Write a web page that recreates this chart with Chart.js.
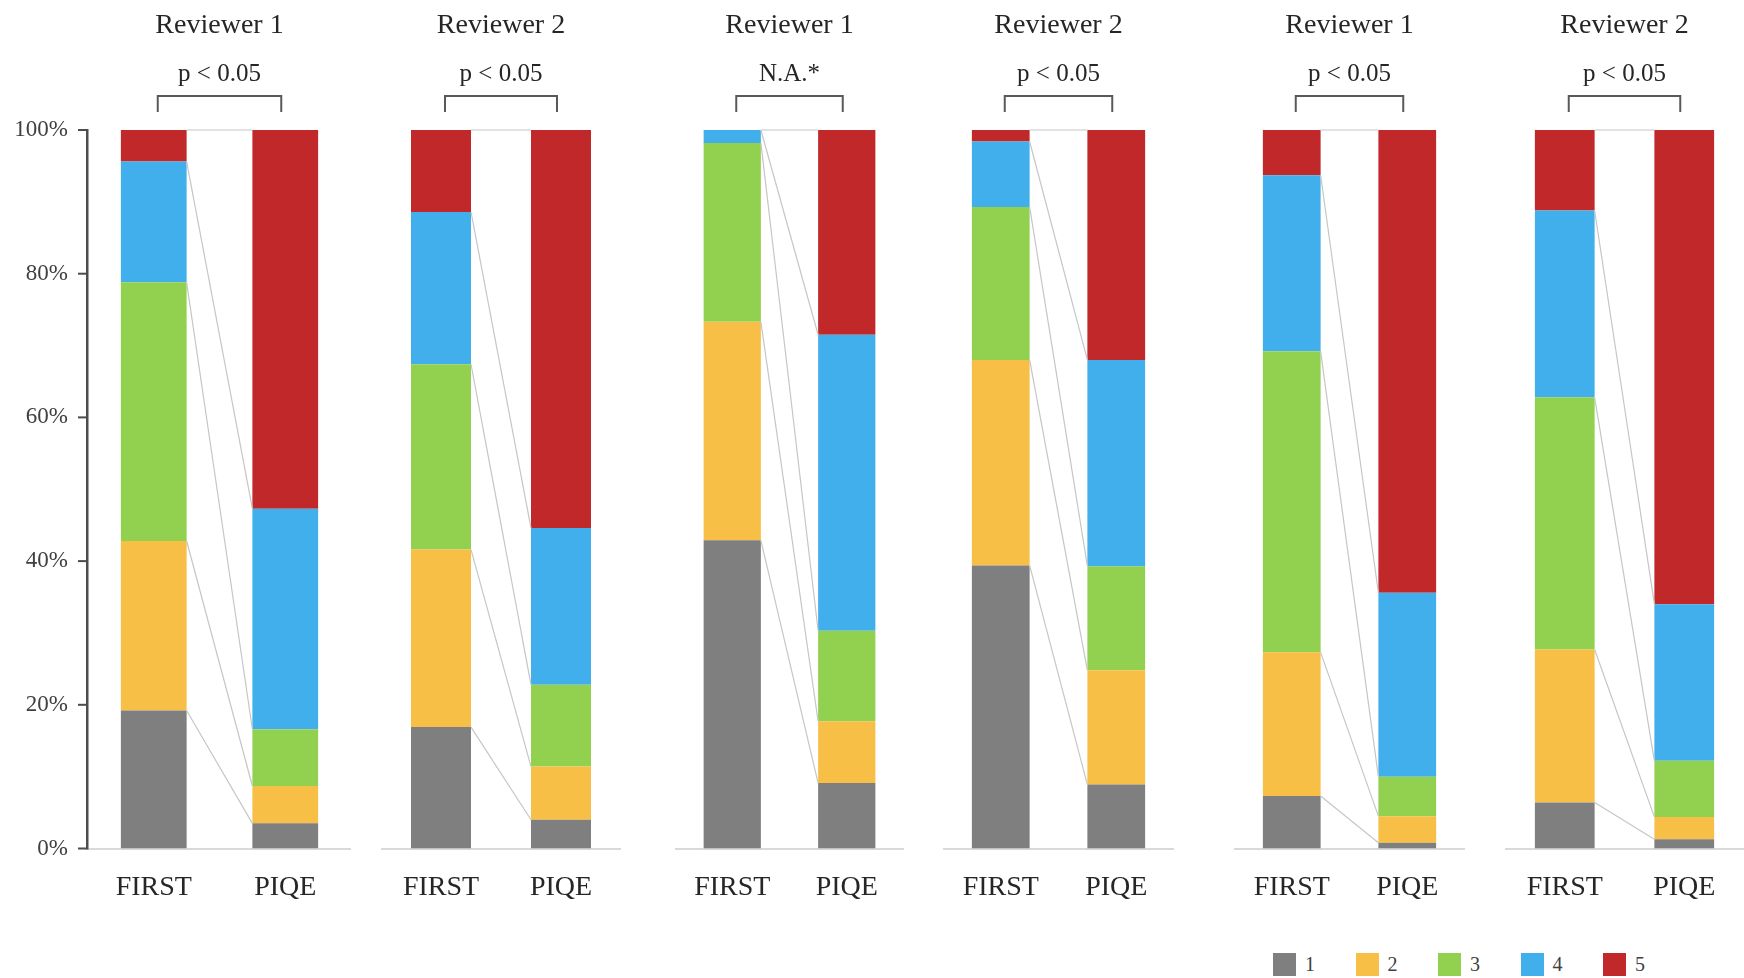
<!DOCTYPE html>
<html>
<head>
<meta charset="utf-8">
<script src="https://cdn.jsdelivr.net/npm/chart.js@4.4.1/dist/chart.umd.min.js"></script>
<style>
  html, body { margin: 0; padding: 0; background: #fff; width: 1744px; height: 978px; overflow: hidden; }
  .panel { position: absolute; top: 0; }
  #legend { position: absolute; left: 1273px; top: 953px; display: flex; font-family: "Liberation Serif", serif; font-size: 20px; color: #404040; }
  #legend .item { display: flex; align-items: center; width: 82.5px; }
  #legend .sw { width: 23px; height: 23px; margin-right: 9px; }
</style>
</head>
<body>
<div id="legend"></div>
<script>
// Rating categories compared in each panel
const categories = ['FIRST', 'PIQE'];
const scoreLevels = ['1', '2', '3', '4', '5'];
const panelTitles = ['Reviewer 1', 'Reviewer 2', 'Reviewer 1', 'Reviewer 2', 'Reviewer 1', 'Reviewer 2'];
const pValueLabels = ['p < 0.05', 'p < 0.05', 'N.A.*', 'p < 0.05', 'p < 0.05', 'p < 0.05'];
const yTickValues = [0, 20, 40, 60, 80, 100];

// Share (%) of each score level 1..5, one row per panel
const firstShares = [
  [19.2, 23.6, 36.0, 16.8, 4.4],
  [16.9, 24.7, 25.8, 21.2, 11.4],
  [42.9, 30.4, 24.9, 1.8, 0.0],
  [39.4, 28.6, 21.3, 9.1, 1.6],
  [7.3, 20.0, 41.9, 24.5, 6.3],
  [6.4, 21.3, 35.1, 26.0, 11.2]
];
const piqeShares = [
  [3.5, 5.2, 7.9, 30.7, 52.7],
  [4.0, 7.4, 11.4, 21.8, 55.4],
  [9.1, 8.6, 12.6, 41.2, 28.5],
  [8.9, 15.9, 14.5, 28.7, 32.0],
  [0.8, 3.7, 5.5, 25.6, 64.4],
  [1.3, 3.1, 7.8, 21.8, 66.0]
];

// Styling and layout
const levelColors = ['#7F7F7F', '#F7BF46', '#92D050', '#41AFEB', '#C0282A'];
const plotLeft = [88, 381, 675, 943, 1234, 1505];
const plotWidth = [263, 240, 229, 231, 231, 239];
const yAxisWidth = 88;
const canvasHeight = 930;
const plotTop = 130;
const plotBottom = 848.5;
const serif = '"Liberation Serif", "Times New Roman", serif';

// Vertical axis line with outward tick marks at each labelled value
const axisLine = {
  id: 'axisLine',
  afterDraw(chart) {
    const y = chart.scales.y;
    if (!y.options.display) return;
    const ctx = chart.ctx;
    const x = Math.round(chart.chartArea.left) - 1;
    const top = y.getPixelForValue(100);
    const bottom = y.getPixelForValue(0);
    ctx.save();
    ctx.fillStyle = '#4d4d4d';
    ctx.fillRect(x - 1, top - 1, 2.5, bottom - top + 2);
    y.ticks.forEach(t => {
      const py = y.getPixelForValue(t.value);
      ctx.fillRect(x - 9, py - 1, 9, 2);
    });
    ctx.restore();
  }
};

// Connector lines between matching segment tops, plus panel heading and bracket
const panelDecor = {
  id: 'panelDecor',
  afterDatasetsDraw(chart, args, opts) {
    const ctx = chart.ctx;
    const area = chart.chartArea;
    ctx.save();
    ctx.strokeStyle = '#c6c6c6';
    ctx.lineWidth = 1.2;
    chart.data.datasets.forEach((ds, i) => {
      const meta = chart.getDatasetMeta(i);
      const a = meta.data[0].getProps(['x', 'y', 'width'], true);
      const b = meta.data[1].getProps(['x', 'y', 'width'], true);
      ctx.beginPath();
      ctx.moveTo(a.x + a.width / 2, a.y);
      ctx.lineTo(b.x - b.width / 2, b.y);
      ctx.stroke();
    });

    const m0 = chart.getDatasetMeta(0);
    const x1 = m0.data[0].getProps(['x'], true).x;
    const x2 = m0.data[1].getProps(['x'], true).x;
    const cx = (x1 + x2) / 2;

    ctx.fillStyle = '#262626';
    ctx.textAlign = 'center';
    ctx.textBaseline = 'middle';
    ctx.font = '28px ' + serif;
    ctx.fillText(opts.title, cx, area.top - 104);
    ctx.font = '25px ' + serif;
    ctx.fillText(opts.pLabel, cx, area.top - 56);

    const inset = 4;
    ctx.strokeStyle = '#595959';
    ctx.lineWidth = 2;
    ctx.beginPath();
    ctx.moveTo(x1 + inset, area.top - 18);
    ctx.lineTo(x1 + inset, area.top - 34);
    ctx.lineTo(x2 - inset, area.top - 34);
    ctx.lineTo(x2 - inset, area.top - 18);
    ctx.stroke();
    ctx.restore();
  }
};

function buildPanel(p) {
  const withAxis = p === 0;
  const div = document.createElement('div');
  div.className = 'panel';
  const left = withAxis ? plotLeft[p] - yAxisWidth : plotLeft[p];
  const width = withAxis ? plotWidth[p] + yAxisWidth : plotWidth[p];
  div.style.left = left + 'px';
  div.style.width = width + 'px';
  div.style.height = canvasHeight + 'px';
  const canvas = document.createElement('canvas');
  canvas.width = width;
  canvas.height = canvasHeight;
  div.appendChild(canvas);
  document.body.appendChild(div);

  const datasets = scoreLevels.map((lvl, k) => ({
    label: lvl,
    data: [firstShares[p][k], piqeShares[p][k]],
    backgroundColor: levelColors[k],
    borderWidth: 0,
    categoryPercentage: 1.0,
    barPercentage: 0.5
  }));

  new Chart(canvas, {
    type: 'bar',
    data: { labels: categories, datasets },
    plugins: [panelDecor, axisLine],
    options: {
      responsive: false,
      animation: false,
      events: [],
      layout: { padding: { top: plotTop, left: 0, right: 0, bottom: 0 } },
      plugins: {
        legend: { display: false },
        tooltip: { enabled: false },
        panelDecor: { title: panelTitles[p], pLabel: pValueLabels[p] }
      },
      scales: {
        x: {
          stacked: true,
          offset: true,
          grid: { display: false },
          border: { display: true, color: '#d9d9d9', width: 2 },
          ticks: { color: '#262626', font: { family: serif, size: 28 }, padding: 14, maxRotation: 0 },
          afterFit(scale) { scale.height = canvasHeight - plotBottom; }
        },
        y: {
          stacked: true,
          display: withAxis,
          min: 0,
          max: 100,
          grid: { display: false, tickLength: 8 },
          border: { display: false },
          ticks: {
            color: '#404040',
            padding: 12,
            font: { family: serif, size: 23 },
            callback: v => v + '%'
          },
          afterBuildTicks(scale) { scale.ticks = yTickValues.map(v => ({ value: v })); },
          afterFit(scale) { if (withAxis) scale.width = yAxisWidth; }
        }
      }
    }
  });
}

for (let p = 0; p < panelTitles.length; p++) buildPanel(p);

// Score legend
const legend = document.getElementById('legend');
scoreLevels.forEach((lvl, k) => {
  const item = document.createElement('div');
  item.className = 'item';
  const sw = document.createElement('div');
  sw.className = 'sw';
  sw.style.background = levelColors[k];
  const txt = document.createElement('span');
  txt.textContent = lvl;
  item.appendChild(sw);
  item.appendChild(txt);
  legend.appendChild(item);
});
</script>
</body>
</html>
